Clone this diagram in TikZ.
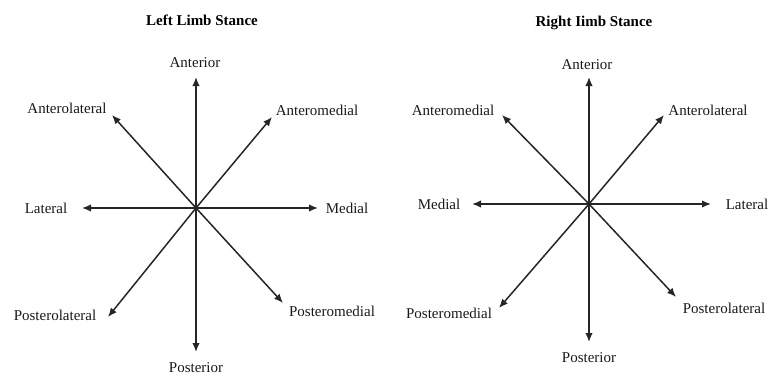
\documentclass[tikz,border=0pt]{standalone}
\usepackage{fontspec}
\setmainfont{Liberation Serif}
\usetikzlibrary{arrows.meta}
\begin{document}
\begin{tikzpicture}[x=1pt,y=-1pt,
  lbl/.style={font=\fontsize{15}{17}\selectfont, inner sep=0pt, text=black!90},
  ttl/.style={font=\fontsize{15}{17}\selectfont\bfseries, inner sep=0pt},
  arr/.style={line width=1.5pt, draw=black!85, -{Latex[length=9pt,width=7.5pt]}}]
\useasboundingbox (0,0) rectangle (768,375);
% ---------- Left limb ----------
\node[ttl] (tL) at (202,20) {Left Limb Stance};
\coordinate (cL) at (196,208);
\coordinate (aL) at (196,77);
\coordinate (alL) at (112,115);
\coordinate (amL) at (272,117);
\coordinate (laL) at (82,208);
\coordinate (meL) at (318,208);
\coordinate (plL) at (108,317);
\coordinate (pmL) at (283,303);
\coordinate (poL) at (196,352);
\node[lbl] (AnL) at (195,63) {Anterior};
\node[lbl] (AlL) at (67,108) {Anterolateral};
\node[lbl] (AmL) at (317,110) {Anteromedial};
\node[lbl] (LaL) at (46,208) {Lateral};
\node[lbl] (MeL) at (347,208) {Medial};
\node[lbl] (PlL) at (55,315) {Posterolateral};
\node[lbl] (PmL) at (332,311) {Posteromedial};
\node[lbl] (PoL) at (196,368) {Posterior};
\foreach \t in {aL,alL,amL,laL,meL,plL,pmL,poL} \draw[arr] (cL) -- (\t);
% ---------- Right limb ----------
\node[ttl] (tR) at (594,23) {Right Iimb Stance};
\coordinate (cR) at (589,204);
\coordinate (aR) at (589,77);
\coordinate (amR) at (502,115);
\coordinate (alR) at (664,115);
\coordinate (meR) at (472,204);
\coordinate (laR) at (711,204);
\coordinate (pmR) at (499,308);
\coordinate (plR) at (676,297);
\coordinate (poR) at (589,342);
\node[lbl] (AnR) at (587,65) {Anterior};
\node[lbl] (AmR) at (453,110) {Anteromedial};
\node[lbl] (AlR) at (708,110) {Anterolateral};
\node[lbl] (MeR) at (439,204) {Medial};
\node[lbl] (LaR) at (747,204) {Lateral};
\node[lbl] (PmR) at (449,313) {Posteromedial};
\node[lbl] (PlR) at (724,308) {Posterolateral};
\node[lbl] (PoR) at (589,358) {Posterior};
\foreach \t in {aR,amR,alR,meR,laR,pmR,plR,poR} \draw[arr] (cR) -- (\t);
\end{tikzpicture}
\end{document}
